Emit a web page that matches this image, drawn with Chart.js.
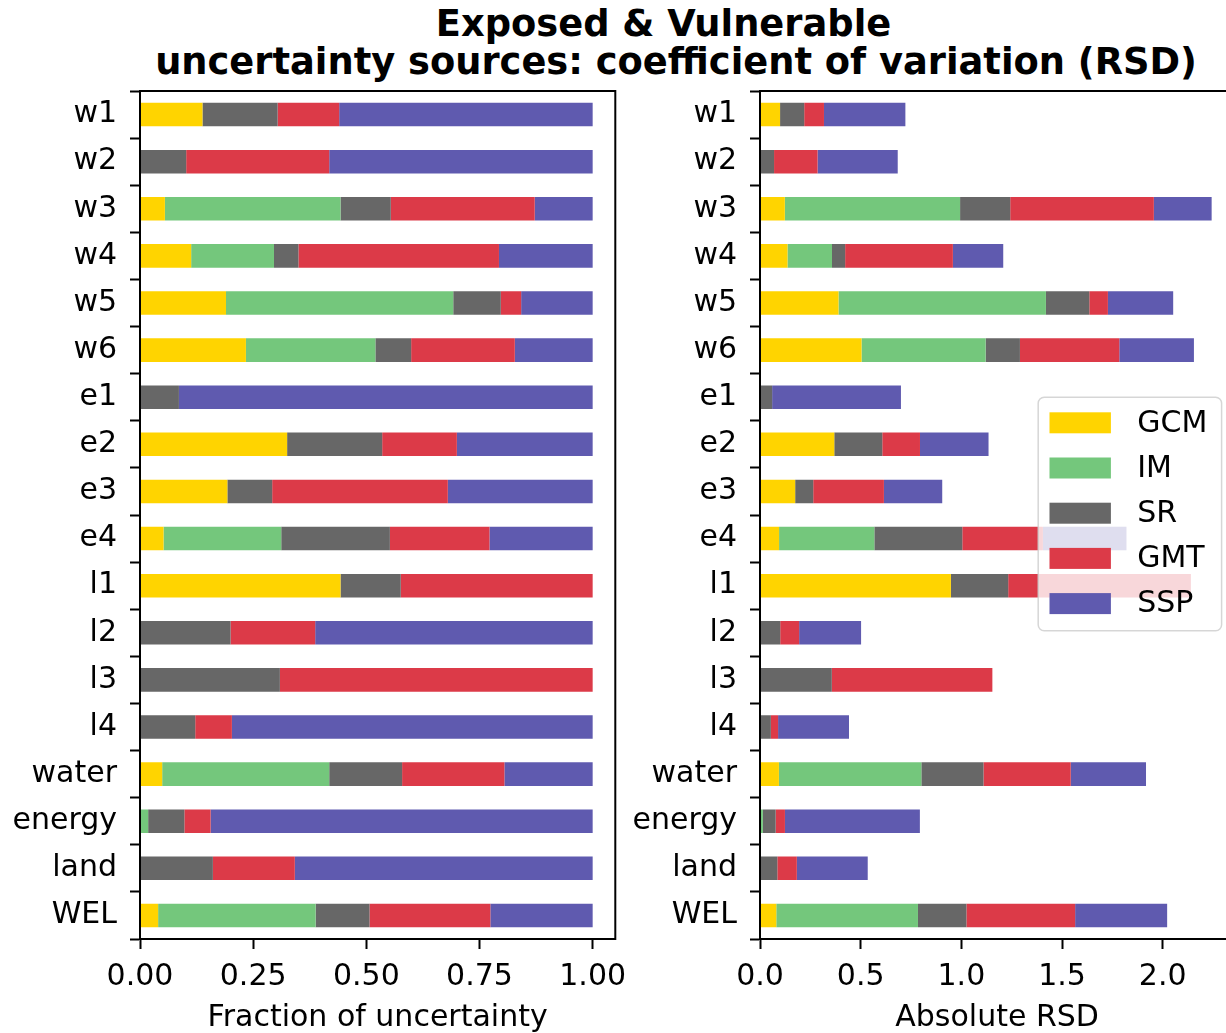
<!DOCTYPE html>
<html>
<head>
<meta charset="utf-8">
<script src="https://cdn.jsdelivr.net/npm/chart.js@4.4.1/dist/chart.umd.min.js"></script>
<style>
  html, body { margin: 0; padding: 0; background: #fff; overflow: hidden; width: 1226px; height: 1033px; }
  #wrap { position: relative; width: 1226px; height: 1033px; overflow: hidden; background: #fff; }
  canvas { position: absolute; top: 0; }
  #fracChart { left: 0; }
  #rsdChart { left: 600px; }
  .title {
    position: absolute; font-family: 'DejaVu Sans', sans-serif; font-weight: bold;
    font-size: 36.8px; line-height: 36px; white-space: nowrap; color: #000;
    transform: translateX(-50%);
  }
</style>
</head>
<body>
<div id="wrap">
  <div class="title" style="left:663.5px; top:6px;">Exposed &amp; Vulnerable</div>
  <div class="title" style="left:676px; top:44px;">uncertainty sources: coefficient of variation (RSD)</div>
  <canvas id="fracChart" width="640" height="1033"></canvas>
  <canvas id="rsdChart" width="640" height="1033"></canvas>
</div>
<script>
// Indicators, top to bottom
const categories = ['w1', 'w2', 'w3', 'w4', 'w5', 'w6', 'e1', 'e2', 'e3', 'e4',
                    'l1', 'l2', 'l3', 'l4', 'water', 'energy', 'land', 'WEL'];

// Uncertainty sources and their colours
const sources = ['GCM', 'IM', 'SR', 'GMT', 'SSP'];
const sourceColors = ['#FFD400', '#74C77C', '#676767', '#DC3A48', '#5F5AAF'];

// Share of the total uncertainty attributed to each source
const shareGCM = [0.138, 0.000, 0.055, 0.113, 0.190, 0.234, 0.000, 0.325, 0.193, 0.052,
                  0.443, 0.000, 0.000, 0.000, 0.049, 0.000, 0.000, 0.040];
const shareIM  = [0.000, 0.000, 0.388, 0.183, 0.502, 0.286, 0.000, 0.000, 0.000, 0.260,
                  0.000, 0.000, 0.000, 0.000, 0.369, 0.018, 0.000, 0.348];
const shareSR  = [0.166, 0.102, 0.111, 0.054, 0.105, 0.079, 0.086, 0.210, 0.099, 0.240,
                  0.133, 0.200, 0.309, 0.122, 0.161, 0.080, 0.161, 0.119];
const shareGMT = [0.136, 0.316, 0.318, 0.443, 0.045, 0.229, 0.000, 0.165, 0.388, 0.220,
                  0.424, 0.187, 0.691, 0.081, 0.226, 0.058, 0.181, 0.267];
const shareSSP = [0.560, 0.582, 0.128, 0.207, 0.158, 0.172, 0.914, 0.300, 0.320, 0.228,
                  0.000, 0.613, 0.000, 0.797, 0.195, 0.844, 0.658, 0.226];

// Total relative standard deviation of each indicator
const totalRSD = [0.722, 0.684, 2.243, 1.208, 2.052, 2.155, 0.700, 1.135, 0.905, 1.820,
                  2.140, 0.502, 1.154, 0.442, 1.917, 0.794, 0.535, 2.022];

// Axis ticks
const fractionTicks = [0, 0.25, 0.5, 0.75, 1.0];
const fractionTickLabels = ['0.00', '0.25', '0.50', '0.75', '1.00'];
const rsdTicks = [0, 0.5, 1.0, 1.5, 2.0];
const rsdTickLabels = ['0.0', '0.5', '1.0', '1.5', '2.0'];

const shares = [shareGCM, shareIM, shareSR, shareGMT, shareSSP];

Chart.defaults.font.family = "'DejaVu Sans', sans-serif";
Chart.defaults.font.size = 30;
Chart.defaults.color = '#000';

const FONT = { family: "'DejaVu Sans', sans-serif", size: 30 };

// Full box round the plotting area
const framePlugin = {
  id: 'frame',
  afterDraw(chart) {
    const { ctx, chartArea: a } = chart;
    ctx.save();
    ctx.strokeStyle = '#000';
    ctx.lineWidth = 2;
    ctx.strokeRect(a.left, a.top, a.right - a.left, a.bottom - a.top);
    ctx.restore();
  }
};

// Semi-transparent legend at the centre right of the plotting area
const boxLegendPlugin = {
  id: 'boxLegend',
  afterDraw(chart) {
    const { ctx, chartArea: a } = chart;
    const w = 183.4, h = 233.4;
    const x = a.right - 12.6 - w;
    const y = (a.top + a.bottom) / 2 - 1 - h / 2;
    ctx.save();
    ctx.beginPath();
    ctx.roundRect(x, y, w, h, 6);
    ctx.fillStyle = 'rgba(255,255,255,0.8)';
    ctx.fill();
    ctx.strokeStyle = 'rgba(204,204,204,0.8)';
    ctx.lineWidth = 1.5;
    ctx.stroke();
    ctx.font = `${FONT.size}px ${FONT.family}`;
    ctx.textBaseline = 'middle';
    ctx.textAlign = 'left';
    chart.data.datasets.forEach((ds, i) => {
      const cy = y + 25.5 + i * 45.2;
      ctx.fillStyle = ds.backgroundColor;
      ctx.fillRect(x + 11.3, cy - 10.5, 61.4, 21);
      ctx.fillStyle = '#000';
      ctx.fillText(ds.label, x + 99, cy + 1);
    });
    ctx.restore();
  }
};

function buildDatasets(values) {
  return sources.map((name, i) => ({
    label: name,
    data: values[i],
    backgroundColor: sourceColors[i],
    borderWidth: 0,
    barPercentage: 0.5,
    categoryPercentage: 1.0
  }));
}

function buildOptions(cfg) {
  return {
    indexAxis: 'y',
    responsive: false,
    animation: false,
    events: [],
    layout: { padding: { top: 91, right: cfg.padRight, bottom: 0, left: 0 } },
    plugins: { legend: { display: false }, tooltip: { enabled: false }, title: { display: false } },
    scales: {
      y: {
        type: 'category',
        stacked: true,
        offset: true,
        grid: { display: true, drawOnChartArea: false, drawTicks: true, tickLength: 10, tickColor: '#000', tickWidth: 2 },
        border: { display: true, color: '#000', width: 2 },
        ticks: { color: '#000', padding: 13, font: FONT, autoSkip: false },
        afterFit: s => { s.width = cfg.yWidth; }
      },
      x: {
        type: 'linear',
        stacked: true,
        min: 0,
        max: cfg.max,
        grid: { display: true, drawOnChartArea: false, drawTicks: true, tickLength: 10, tickColor: '#000', tickWidth: 2 },
        border: { display: true, color: '#000', width: 2 },
        afterBuildTicks: s => { s.ticks = cfg.tickValues.map(v => ({ value: v })); },
        ticks: {
          color: '#000', padding: 10, font: FONT, maxRotation: 0, minRotation: 0, autoSkip: false,
          callback: (v, i) => cfg.tickLabels[i]
        },
        title: { display: true, text: cfg.title, color: '#000', font: { ...FONT, lineHeight: 1.0 }, padding: { top: 0, bottom: 0 } },
        afterFit: s => { s.height = 94; }
      }
    }
  };
}

// Left panel: fraction of the uncertainty per source
new Chart(document.getElementById('fracChart'), {
  type: 'bar',
  data: { labels: categories, datasets: buildDatasets(shares) },
  options: buildOptions({
    padRight: 24.7, yWidth: 140, max: 1.05,
    tickValues: fractionTicks, tickLabels: fractionTickLabels,
    title: 'Fraction of uncertainty'
  }),
  plugins: [framePlugin]
});

// Right panel: each source's share scaled by the total RSD
const absolute = shares.map(arr => arr.map((f, j) => f * totalRSD[j]));
new Chart(document.getElementById('rsdChart'), {
  type: 'bar',
  data: { labels: categories, datasets: buildDatasets(absolute) },
  options: buildOptions({
    padRight: 5.8, yWidth: 160, max: 2.355,
    tickValues: rsdTicks, tickLabels: rsdTickLabels,
    title: 'Absolute RSD'
  }),
  plugins: [framePlugin, boxLegendPlugin]
});
</script>
</body>
</html>
